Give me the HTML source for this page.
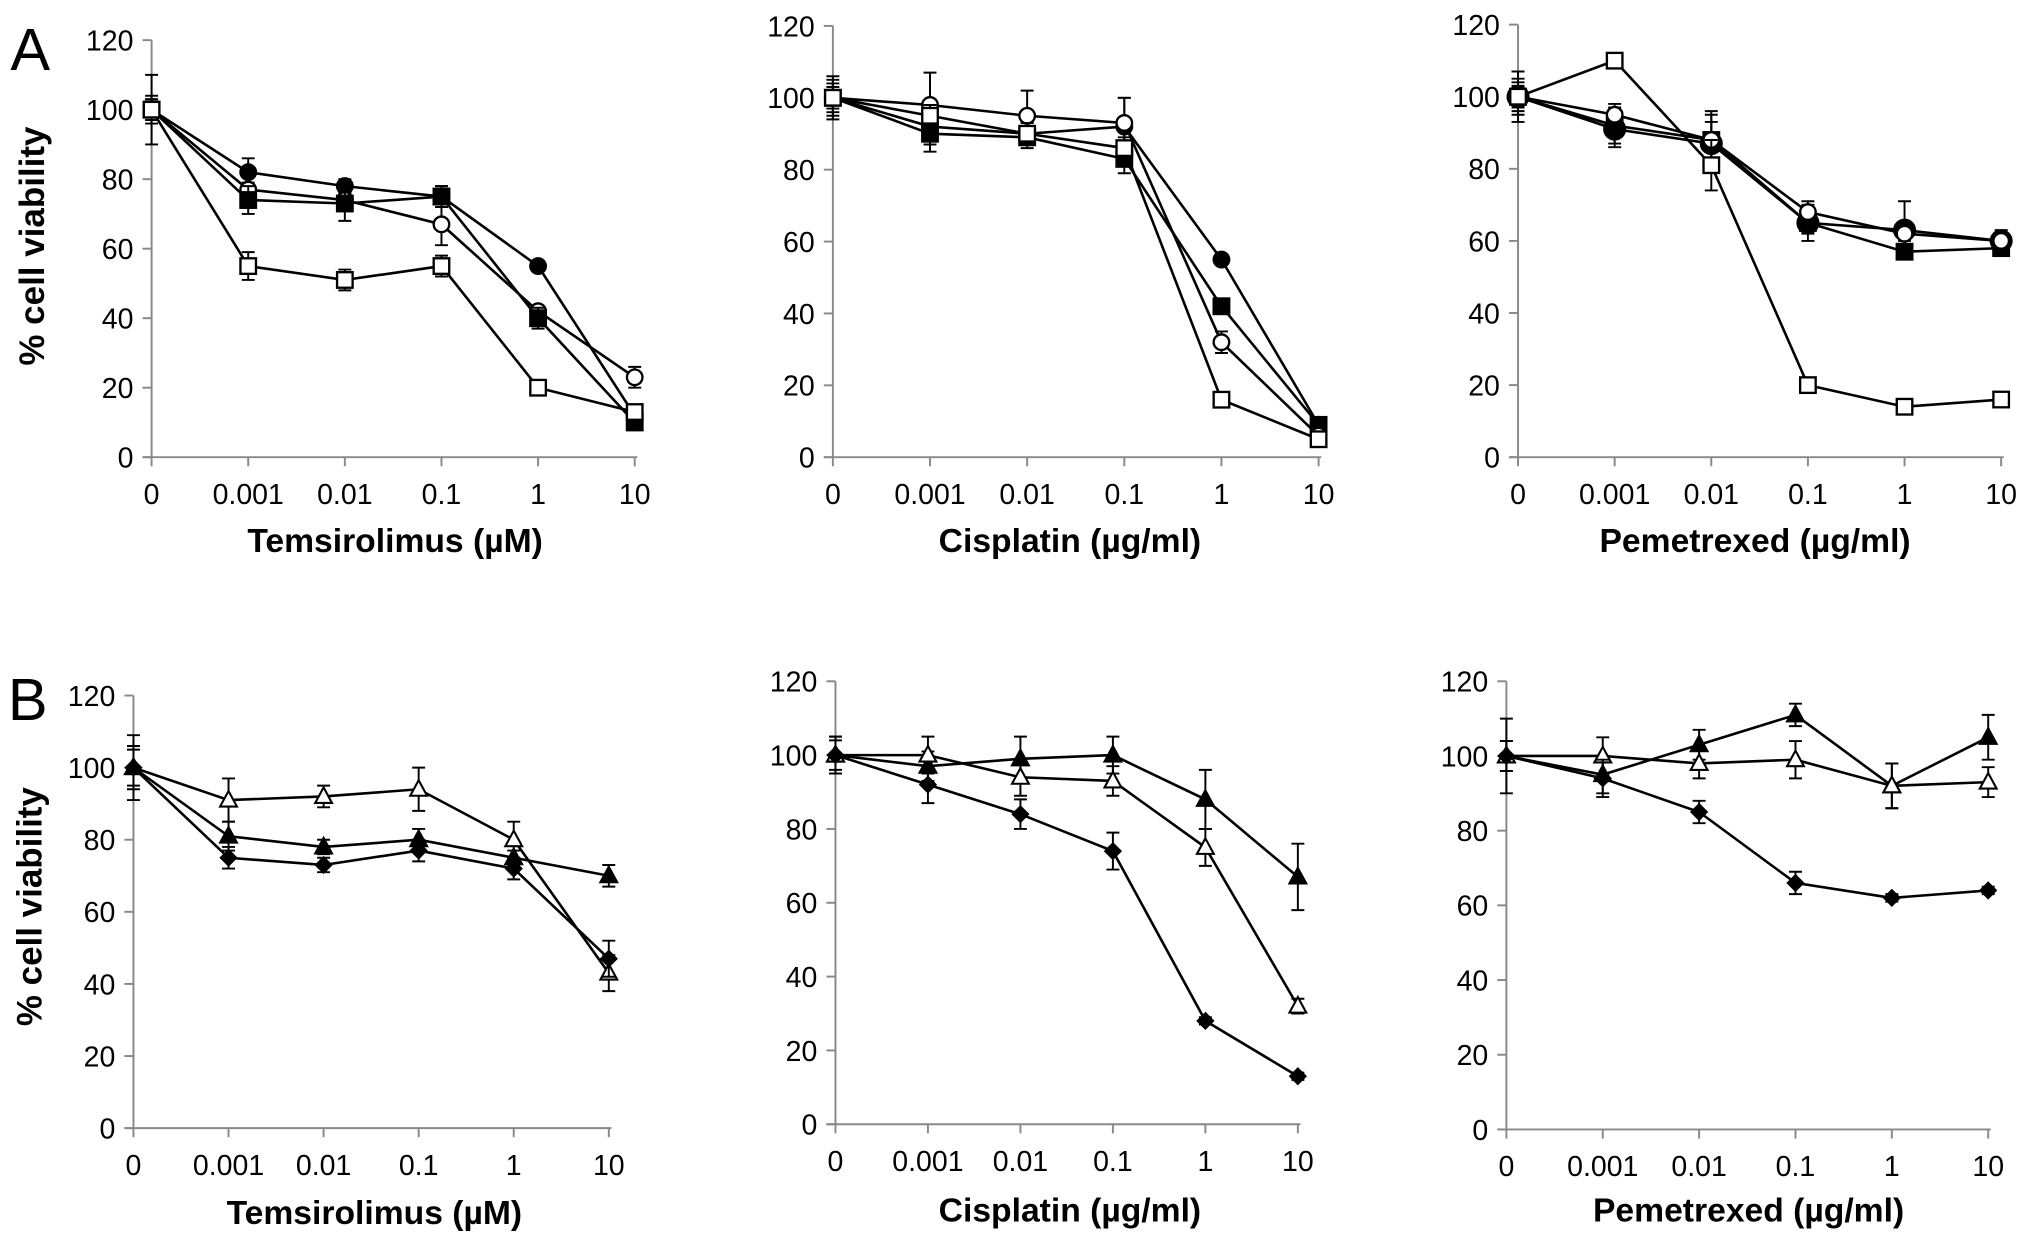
<!DOCTYPE html>
<html><head><meta charset="utf-8"><style>
html,body{margin:0;padding:0;background:#fff}
svg{display:block}
text{font-family:"Liberation Sans",Arial,sans-serif;fill:#000}
</style></head><body>
<svg id="fig" width="2031" height="1246" viewBox="0 0 1568 962" xmlns="http://www.w3.org/2000/svg">
<text x="8" y="54" font-size="46">A</text>
<text x="6" y="556" font-size="46">B</text>
<text transform="translate(34,190) rotate(-90)" text-anchor="middle" font-size="27" font-weight="bold">% cell viability</text>
<text transform="translate(32,700) rotate(-90)" text-anchor="middle" font-size="27" font-weight="bold">% cell viability</text>
</svg>
<script>
const xCategories = ["0","0.001","0.01","0.1","1","10"];
const yTicks = [0,20,40,60,80,100,120];

// Panel A1 Temsirolimus
const a1FilledCircle = [100,82,78,75,55,12];
const a1OpenCircle   = [100,77,74,67,42,23];
const a1FilledSquare = [100,74,73,75,40,10];
const a1OpenSquare   = [100,55,51,55,20,13];
const a1FilledCircleErr = [10,4,2,3,1,1];
const a1OpenCircleErr   = [3,2,2,6,1,3];
const a1FilledSquareErr = [4,4,5,3,3,1];
const a1OpenSquareErr   = [3,4,3,3,1,1];
// Panel A2 Cisplatin
const a2FilledCircle = [100,92,90,92,55,9];
const a2FilledSquare = [100,90,89,83,42,9];
const a2OpenCircle   = [100,98,95,93,32,6];
const a2OpenSquare   = [100,95,90,86,16,5];
const a2FilledCircleErr = [6,5,3,8,1,1];
const a2FilledSquareErr = [5,5,3,4,1,1];
const a2OpenCircleErr   = [4,9,7,7,3,1];
const a2OpenSquareErr   = [3,3,3,3,1,1];
// Panel A3 Pemetrexed
const a3FilledCircle = [100,91,87,65,63,60];
const a3OpenCircle   = [100,95,88,68,62,60];
const a3FilledSquare = [100,92,88,65,57,58];
const a3OpenSquare   = [100,110,81,20,14,16];
const a3FilledCircleErr = [7,5,6,5,8,3];
const a3OpenCircleErr   = [4,3,8,3,2,2];
const a3FilledSquareErr = [5,5,7,3,2,1];
const a3OpenSquareErr   = [3,2,7,1,1,1];
// Panel B1 Temsirolimus
const b1OpenTri   = [100,91,92,94,80,43];
const b1FilledTri = [100,81,78,80,75,70];
const b1Diamond   = [100,75,73,77,72,47];
const b1OpenTriErr   = [9,6,3,6,5,5];
const b1FilledTriErr = [6,4,2,3,2,3];
const b1DiamondErr   = [5,3,2,3,3,5];
// Panel B2 Cisplatin
const b2FilledTri = [100,97,99,100,88,67];
const b2OpenTri   = [100,100,94,93,75,32];
const b2Diamond   = [100,92,84,74,28,13];
const b2FilledTriErr = [5,4,6,5,8,9];
const b2OpenTriErr   = [4,5,5,4,5,2];
const b2DiamondErr   = [5,5,4,5,1,1];
// Panel B3 Pemetrexed
const b3FilledTri = [100,95,103,111,92,105];
const b3OpenTri   = [100,100,98,99,92,93];
const b3Diamond   = [100,94,85,66,62,64];
const b3FilledTriErr = [10,5,4,3,6,6];
const b3OpenTriErr   = [4,5,4,5,6,4];
const b3DiamondErr   = [4,5,3,3,1,1];

const NS="http://www.w3.org/2000/svg";
const svg=document.getElementById('fig');
function mk(tag,attrs,parent){const e=document.createElementNS(NS,tag);for(const k in attrs)e.setAttribute(k,attrs[k]);(parent||svg).appendChild(e);return e;}

const panels=[
 {id:'a1',x0:117,x1:490,y0:353,y1:31,title:'Temsirolimus  (\u00b5M)',tx:305,ty:426,series:[[a1FilledCircle,a1FilledCircleErr,'circle',true],[a1OpenCircle,a1OpenCircleErr,'circle',false],[a1FilledSquare,a1FilledSquareErr,'square',true],[a1OpenSquare,a1OpenSquareErr,'square',false]]},
 {id:'a2',x0:643,x1:1018,y0:353,y1:20,title:'Cisplatin  (\u00b5g/ml)',tx:826,ty:426,series:[[a2FilledCircle,a2FilledCircleErr,'circle',true],[a2FilledSquare,a2FilledSquareErr,'square',true],[a2OpenCircle,a2OpenCircleErr,'circle',false],[a2OpenSquare,a2OpenSquareErr,'square',false]]},
 {id:'a3',x0:1172,x1:1545,y0:353,y1:19,title:'Pemetrexed (\u00b5g/ml)',tx:1355,ty:426,series:[[a3FilledSquare,a3FilledSquareErr,'square',true],[a3FilledCircle,a3FilledCircleErr,'bigcircle',true],[a3OpenCircle,a3OpenCircleErr,'circle',false],[a3OpenSquare,a3OpenSquareErr,'square',false]]},
 {id:'b1',x0:103,x1:470,y0:871,y1:537,title:'Temsirolimus (\u00b5M)',tx:289,ty:945,series:[[b1OpenTri,b1OpenTriErr,'tri',false],[b1FilledTri,b1FilledTriErr,'tri',true],[b1Diamond,b1DiamondErr,'diamond',true]]},
 {id:'b2',x0:645,x1:1002,y0:868,y1:526,title:'Cisplatin  (\u00b5g/ml)',tx:826,ty:943,series:[[b2FilledTri,b2FilledTriErr,'tri',true],[b2OpenTri,b2OpenTriErr,'tri',false],[b2Diamond,b2DiamondErr,'diamond',true]]},
 {id:'b3',x0:1163,x1:1535,y0:872,y1:526,title:'Pemetrexed (\u00b5g/ml)',tx:1350,ty:943,series:[[b3FilledTri,b3FilledTriErr,'tri',true],[b3OpenTri,b3OpenTriErr,'tri',false],[b3Diamond,b3DiamondErr,'diamond',true]]}
];

panels.forEach(p=>{
 const g=mk('g',{});
 
 
 const xs=i=>p.x0+(p.x1-p.x0)*i/(xCategories.length-1);
 const ys=v=>p.y0+(p.y1-p.y0)*v/120;
 const ya=mk('line',{x1:p.x0,y1:ys(120),x2:p.x0,y2:p.y0,stroke:'#888','stroke-width':1.5},g);
 
 
 const xa=mk('line',{x1:p.x0-7,y1:p.y0,x2:p.x1+2,y2:p.y0,stroke:'#888','stroke-width':1.5},g);
 
 
 yTicks.forEach(t=>{
  mk('line',{x1:p.x0-7,y1:ys(t),x2:p.x0,y2:ys(t),stroke:'#888','stroke-width':1.5},g);
  const tl=mk('text',{x:p.x0-14,y:ys(t)+8,'text-anchor':'end','font-size':22},g);
  tl.textContent=t;
  
  
 });
 xCategories.forEach((c,i)=>{
  mk('line',{x1:xs(i),y1:p.y0,x2:xs(i),y2:p.y0+7,stroke:'#888','stroke-width':1.5},g);
  const tl=mk('text',{x:xs(i),y:p.y0+36,'text-anchor':'middle','font-size':22},g);
  tl.textContent=c;
  
  
 });
 const tt=mk('text',{x:p.tx,y:p.ty,'text-anchor':'middle','font-size':26,'font-weight':'bold'},g);
 tt.textContent=p.title;
 
 
 p.series.forEach(([vals,errs,shape,filled])=>{
  const sg=mk('g',{},g);
  
  
  const pts=vals.map((v,i)=>xs(i)+','+ys(v)).join(' ');
  mk('polyline',{points:pts,fill:'none',stroke:'#000','stroke-width':2},sg);
  vals.forEach((v,i)=>{
   const cx=xs(i),cy=ys(v),e=errs[i];
   const eb=mk('path',{d:`M${cx},${ys(v+e)}V${ys(v-e)}M${cx-5},${ys(v+e)}H${cx+5}M${cx-5},${ys(v-e)}H${cx+5}`,stroke:'#000','stroke-width':1.5,fill:'none'},sg);
   
   
   const fill=filled?'#000':'#fff';
   let m;
   if(shape==='circle'||shape==='bigcircle'){m=mk('circle',{cx,cy,r:shape==='bigcircle'?8:6,fill,stroke:'#000','stroke-width':1.8},sg);}
   else if(shape==='square'){m=mk('rect',{x:cx-6,y:cy-6,width:12,height:12,fill,stroke:'#000','stroke-width':1.8},sg);}
   else if(shape==='tri'){m=mk('polygon',{points:`${cx},${cy-7} ${cx+6.5},${cy+5} ${cx-6.5},${cy+5}`,fill,stroke:'#000','stroke-width':1.6},sg);}
   else {m=mk('polygon',{points:`${cx},${cy-6} ${cx+6},${cy} ${cx},${cy+6} ${cx-6},${cy}`,fill,stroke:'#000','stroke-width':1.5},sg);}
   
   
  });
 });
});
</script>
</body></html>
